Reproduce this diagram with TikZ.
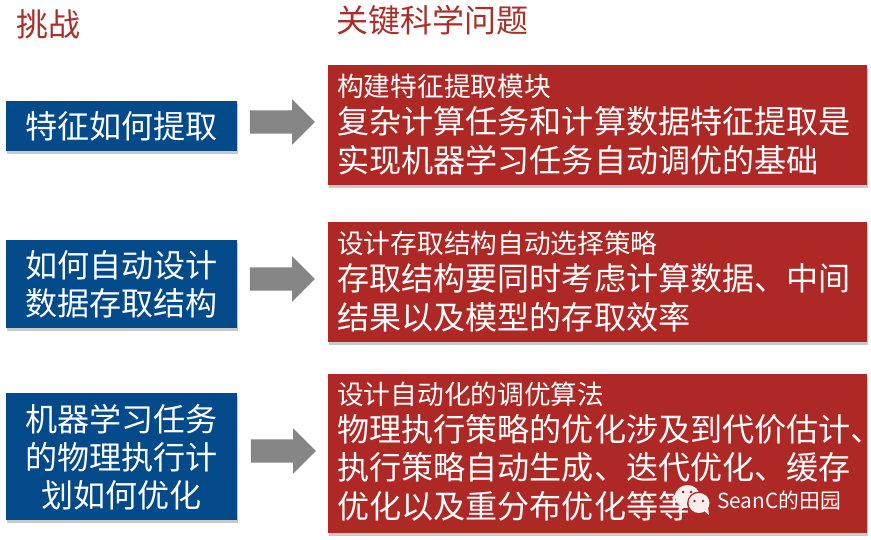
\documentclass[tikz,border=0pt]{standalone}
\usepackage{fontspec}
\setmainfont{Noto Sans CJK SC}
\usetikzlibrary{shapes.arrows,shadows}
\definecolor{bluebox}{HTML}{034A8B}
\definecolor{redbox}{HTML}{AE2825}
\definecolor{titlered}{HTML}{A8302A}
\definecolor{arrowgray}{HTML}{868686}
\tikzset{
 x=1pt,y=-1pt,
 softshadow/.style={drop shadow={shadow xshift=1pt,shadow yshift=-3pt,opacity=.3,fill=black!70}},
 qbox/.style={fill=bluebox,text=white,softshadow,align=center,inner sep=0pt,font=\fontsize{32.1}{38}\selectfont,minimum width=231pt,anchor=north west},
 abox/.style={fill=redbox,softshadow,inner sep=0pt,minimum width=539pt,anchor=north west},
 head/.style={text=white,anchor=west,inner sep=0pt,font=\fontsize{26.7}{30}\selectfont},
 body/.style={text=white,anchor=north west,align=left,inner sep=0pt,font=\fontsize{32.1}{38.5}\selectfont},
 title/.style={text=titlered,anchor=west,inner sep=0pt,font=\fontsize{32}{36}\selectfont},
 flow/.style={single arrow,fill=arrowgray,inner sep=11.5pt,minimum width=45pt,minimum height=65pt,single arrow head extend=11pt,single arrow tip angle=90,anchor=center},
 chat/.style={fill=white!92!redbox,draw=none},
 wmark/.style={text=white,anchor=west,inner sep=0pt,font=\fontsize{20.8}{24}\selectfont}
}
\begin{document}
\begin{tikzpicture}
\useasboundingbox (0,0) rectangle (871,540);
\node[title] (t1) at (16,24) {挑战};
\node[title] (t2) at (336,20) {关键科学问题};

\node[qbox,minimum height=50pt] (q1) at (6,101) {特征如何提取};
\node[qbox,minimum height=88pt] (q2) at (6,240) {如何自动设计\\数据存取结构};
\node[qbox,minimum height=127pt] (q3) at (6,393) {机器学习任务\\的物理执行计\\划如何优化};

\node[abox,minimum height=120pt] (a1) at (328,65) {};
\node[abox,minimum height=120pt] (a2) at (328,222) {};
\node[abox,minimum height=159pt] (a3) at (328,374) {};

\node[head] (h1) at (337,86) {构建特征提取模块};
\node[head] (h2) at (337,243) {设计存取结构自动选择策略};
\node[head] (h3) at (337,394) {设计自动化的调优算法};

\node[body] (b1) at (337,106.5) {复杂计算任务和计算数据特征提取是\\实现机器学习任务自动调优的基础};
\node[body] (b2) at (337,263.5) {存取结构要同时考虑计算数据、中间\\结果以及模型的存取效率};
\node[body] (b3) at (337,414) {物理执行策略的优化涉及到代价估计\rlap{、}\\执行策略自动生成、迭代优化、缓存\\优化以及重分布优化等等};

\node[flow] (f1) at (276.5,122) {};
\node[flow] (f2) at (276.5,279) {};
\node[flow] (f3) at (277.5,451) {};

% WeChat logo
\fill[chat] (687.5,496.5) circle (12.5pt and 11.5pt);
\fill[chat] (680,505) -- (678,511) -- (686,507) -- cycle;
\fill[redbox] (683,492) circle (1.5pt) (691,492) circle (1.5pt);
\fill[redbox] (699,503.5) circle (12pt);
\fill[chat] (699,503) circle (10.5pt and 10pt);
\fill[chat] (703,510) -- (709,515) -- (708,507) -- cycle;
\fill[redbox] (694.5,501) circle (1.3pt) (703,501) circle (1.3pt);
\node[wmark] (m) at (717,501) {SeanC的田园};
\end{tikzpicture}
\end{document}
